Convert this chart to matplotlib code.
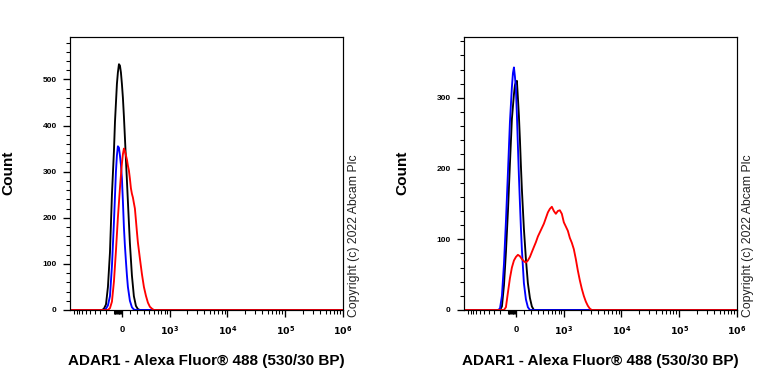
import numpy as np
import matplotlib
matplotlib.use("Agg")
import matplotlib.pyplot as plt
import matplotlib.transforms as mtransforms

plt.rcParams['font.family'] = ['Liberation Sans', 'DejaVu Sans']

# cofactor of the arcsinh (biexponential-like) fluorescence axis
COFACTOR = 304.0
X_MIN = -1179
X_MAX = 1e6

# ---- left panel: counts vs fluorescence ----
left_black_x = [-264, -236, -206, -178, -150, -124, -98, -85, -61, -49, -36, -24, -12, 0,
                12, 24, 36, 49, 61, 73, 98, 124, 150, 178, 206, 236]
left_black_y = [0, 3, 12, 50, 125, 250, 345, 408, 490, 515, 533, 530, 515, 490,
                460, 420, 375, 325, 280, 235, 145, 75, 30, 9, 2, 0]

left_blue_x = [-236, -206, -178, -150, -124, -98, -73, -61, -49, -36, -24, -12, 0,
               12, 24, 36, 49, 61, 73, 98, 124, 150, 178]
left_blue_y = [0, 3, 10, 30, 95, 191, 300, 335, 355, 352, 335, 315, 285,
               235, 180, 140, 105, 75, 50, 20, 6, 1, 0]

left_red_x = [-178, -150, -124, -98, -73, -49, -24, -12, 0, 12, 24, 36, 49, 61, 73, 85,
              98, 111, 124, 137, 150, 164, 178, 192, 206, 236, 268, 301, 336, 373,
              412, 454, 499]
left_red_y = [0, 4, 18, 62, 128, 200, 264, 292, 318, 338, 350, 345, 335, 326, 313, 303,
              285, 264, 252, 244, 232, 220, 195, 170, 147, 112, 78, 50, 31, 16,
              7, 3, 0]

# ---- right panel ----
right_blue_x = [-236, -206, -178, -150, -124, -98, -73, -49, -36, -24, -12, 0,
                12, 24, 36, 49, 61, 73, 98, 124, 150, 178]
right_blue_y = [0, 2, 20, 65, 125, 195, 266, 315, 335, 343, 330, 313,
                275, 232, 190, 150, 115, 85, 38, 15, 4, 0]

right_black_x = [-206, -178, -150, -124, -98, -73, -49, -24, -12, 0, 12, 24, 36,
                 49, 61, 73, 98, 124, 150, 178, 206, 236]
right_black_y = [0, 5, 35, 82, 140, 207, 270, 305, 318, 322, 324, 300, 275,
                 240, 203, 170, 115, 72, 38, 17, 5, 0]

right_red_x = [-150, -124, -98, -73, -49, -24, 0, 24, 49, 73, 98, 124, 150, 178, 206,
               236, 268, 301, 336, 373, 412, 454, 499, 547, 598, 653, 713, 777, 845,
               919, 999, 1086, 1179, 1279, 1388, 1505, 1632, 1768, 1917, 2077, 2250,
               2438, 2642, 2861, 3098]
right_red_y = [0, 4, 25, 45, 60, 70, 75, 78, 76, 72, 69, 67, 70, 75, 82,
               89, 96, 104, 110, 116, 122, 130, 138, 143, 146, 140, 136, 140, 141,
               136, 124, 118, 112, 102, 95, 86, 72, 56, 42, 30, 20,
               12, 6, 2, 0]

major_ticks = [0, 1e3, 1e4, 1e5, 1e6]
major_labels = ['0', r'$\mathbf{10^{3}}$', r'$\mathbf{10^{4}}$',
                r'$\mathbf{10^{5}}$', r'$\mathbf{10^{6}}$']
minor_ticks = (list(range(-1000, -99, 100)) + list(range(-90, 0, 10))
               + list(range(100, 1000, 100))
               + [m * 10 ** k for k in (3, 4, 5) for m in range(2, 10)])

xlabel = 'ADAR1 - Alexa Fluor® 488 (530/30 BP)'
copyright_text = 'Copyright (c) 2022 Abcam Plc'


def fwd(x):
    return np.arcsinh(np.asarray(x, dtype=float) / COFACTOR)


def inv(y):
    return COFACTOR * np.sinh(np.asarray(y, dtype=float))


def with_baseline(xs, ys):
    # histogram sits on zero over the whole axis
    return [X_MIN] + list(xs) + [X_MAX], [0] + list(ys) + [0]


def style_axes(fig, ax, ymax, ystep):
    ax.set_xscale('function', functions=(fwd, inv))
    ax.set_xlim(X_MIN, X_MAX)
    ax.set_ylim(0, ymax)
    ax.set_xticks(major_ticks)
    ax.set_xticklabels(major_labels)
    ax.set_xticks(minor_ticks, minor=True)
    ax.set_yticks(np.arange(0, ymax, ystep))
    ax.set_yticks(np.arange(0, ymax, 20), minor=True)
    for lab in ax.get_yticklabels():
        lab.set_fontsize(6.3)
        lab.set_fontweight('bold')
    # power-of-ten labels sit a little right of their tick
    shift = mtransforms.ScaledTranslation(5 / 96, 0, fig.dpi_scale_trans)
    for i, lab in enumerate(ax.get_xticklabels()):
        lab.set_fontsize(7)
        lab.set_fontweight('bold')
        if i > 0:
            lab.set_transform(lab.get_transform() + shift)
    ax.tick_params(axis='x', which='major', direction='out', length=5, width=1, pad=6)
    ax.tick_params(axis='y', which='major', direction='out', length=5, width=1, pad=5)
    ax.tick_params(which='minor', direction='out', length=3, width=0.8)
    for sp in ax.spines.values():
        sp.set_linewidth(0.9)


fig = plt.figure(figsize=(8, 4), dpi=96)

panels = [
    (70, 592, 100, [(left_black_x, left_black_y, 'black'),
                    (left_blue_x, left_blue_y, 'blue'),
                    (left_red_x, left_red_y, 'red')]),
    (464, 386, 100, [(right_black_x, right_black_y, 'black'),
                     (right_blue_x, right_blue_y, 'blue'),
                     (right_red_x, right_red_y, 'red')]),
]

for left_px, ymax, ystep, curves in panels:
    ax = fig.add_axes([left_px / 768, 74 / 384, 273 / 768, 273 / 384])
    for xs, ys, color in curves:
        bx, by = with_baseline(xs, ys)
        ax.plot(bx, by, color=color, lw=1.4)
    style_axes(fig, ax, ymax, ystep)

    fig.text((left_px - 62) / 768, 1 - 173 / 384, 'Count', rotation=90,
             ha='center', va='center', fontsize=11.5, fontweight='bold')
    fig.text((left_px + 136.5) / 768, 1 - 361 / 384, xlabel,
             ha='center', va='center', fontsize=11.4, fontweight='bold')
    fig.text((left_px + 284) / 768, 1 - 317 / 384, copyright_text, rotation=90,
             ha='center', va='bottom', fontsize=9.2, color='#222222')

fig.savefig('out.png', dpi=96)
